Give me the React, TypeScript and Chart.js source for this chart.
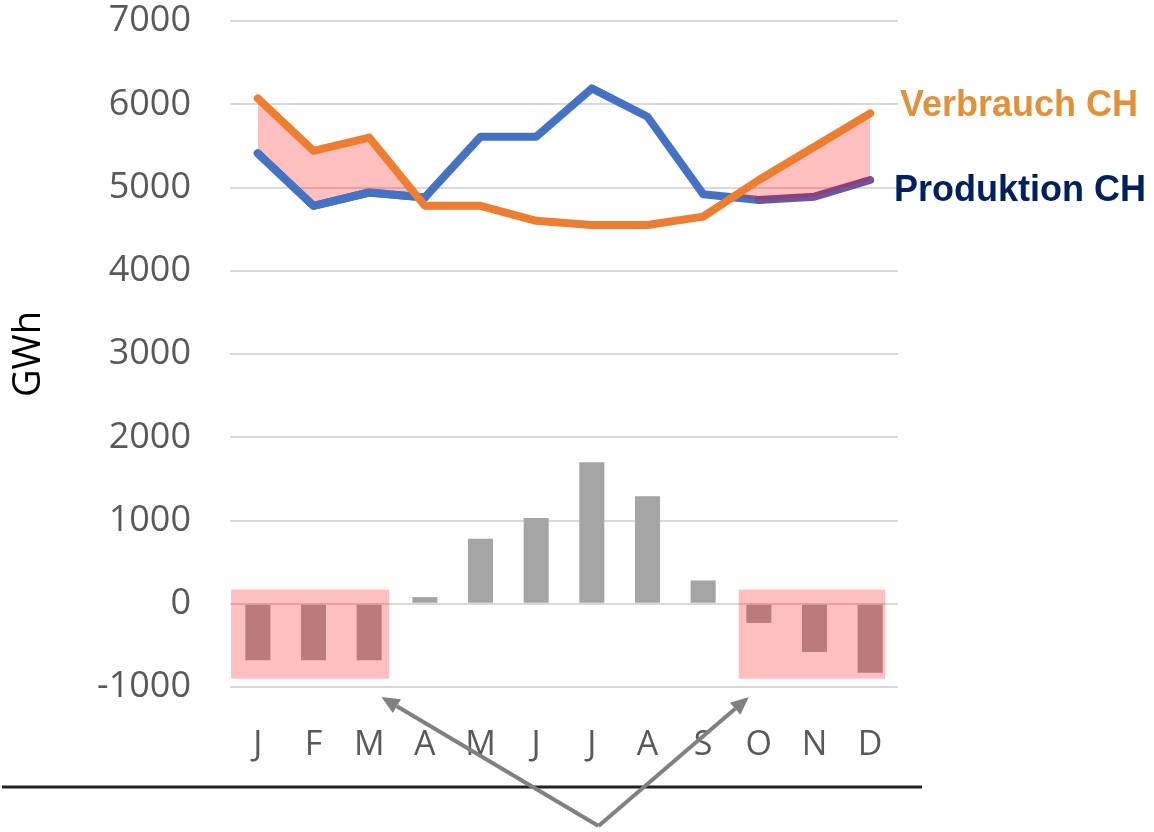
import React, { useEffect, useRef } from "react";
import { Chart, registerables } from "chart.js";

Chart.register(...registerables);

const months = ["J", "F", "M", "A", "M", "J", "J", "A", "S", "O", "N", "D"];
const verbrauch = [6070, 5440, 5600, 4780, 4780, 4600, 4550, 4550, 4650, 5090, 5490, 5890];
const produktion = [5410, 4780, 4940, 4880, 5610, 5610, 6190, 5850, 4920, 4850, 4890, 5090];
const saldo = [-680, -680, -680, 80, 780, 1030, 1700, 1290, 280, -230, -580, -830];
const yTicks = [-1000, 0, 1000, 2000, 3000, 4000, 5000, 6000, 7000];

const ORANGE = "#ed7d31";
const BLUE = "#4472c4";
const PURPLE = "#6a55a0";
const GREY = "#a5a5a5";
const PINK = "rgba(255,0,0,0.25)";

const overlayPlugin = {
  id: "overlay",
  beforeDatasetDraw(chart: any, args: any) {
    // after the pink fill of the Verbrauch line, re-draw the winter part of the
    // Produktion line (Jan–Apr) so it stays blue there
    if (args.index !== 0) return;
    const pts = chart.getDatasetMeta(1).data;
    const { ctx } = chart;
    ctx.save();
    ctx.strokeStyle = BLUE;
    ctx.lineWidth = 8;
    ctx.lineJoin = "round";
    ctx.lineCap = "round";
    ctx.beginPath();
    for (let i = 0; i <= 3; i++) {
      if (i === 0) ctx.moveTo(pts[i].x, pts[i].y);
      else ctx.lineTo(pts[i].x, pts[i].y);
    }
    ctx.stroke();
    ctx.restore();
  },
  afterDatasetsDraw(chart: any) {
    const { ctx, scales } = chart;
    const x = scales.x;
    const y = scales.y;
    ctx.save();
    ctx.fillStyle = PINK;
    const boxes = [
      [-0.48, 2.36],
      [8.64, 11.27],
    ];
    const top = y.getPixelForValue(170);
    const bot = y.getPixelForValue(-900);
    for (const [a, b] of boxes) {
      const l = x.getPixelForValue(a);
      const r = x.getPixelForValue(b);
      ctx.fillRect(l, top, r - l, bot - top);
    }
    ctx.restore();
  },
  afterDraw(chart: any) {
    const { ctx, scales, chartArea } = chart;
    const x = scales.x;
    ctx.save();
    // horizontal black rule
    const ruleY = chartArea.bottom + 100;
    ctx.strokeStyle = "#222";
    ctx.lineWidth = 3;
    ctx.beginPath();
    ctx.moveTo(2, ruleY);
    ctx.lineTo(chartArea.right + 24, ruleY);
    ctx.stroke();
    // arrows
    const apexX = x.getPixelForValue(6.12);
    const apexY = chart.height - 6;
    const tipY = chartArea.bottom + 10;
    const tips = [x.getPixelForValue(2.22), x.getPixelForValue(8.82)];
    ctx.strokeStyle = "#808080";
    ctx.fillStyle = "#808080";
    ctx.lineWidth = 4;
    for (const tx of tips) {
      const ang = Math.atan2(tipY - apexY, tx - apexX);
      const hl = 18;
      const bx = tx - Math.cos(ang) * hl;
      const by = tipY - Math.sin(ang) * hl;
      ctx.beginPath();
      ctx.moveTo(apexX, apexY);
      ctx.lineTo(bx, by);
      ctx.stroke();
      const w = 8;
      ctx.beginPath();
      ctx.moveTo(tx, tipY);
      ctx.lineTo(bx + Math.sin(ang) * w, by - Math.cos(ang) * w);
      ctx.lineTo(bx - Math.sin(ang) * w, by + Math.cos(ang) * w);
      ctx.closePath();
      ctx.fill();
    }
    // series labels
    const y = scales.y;
    ctx.font = "bold 36px 'Liberation Sans', Arial, sans-serif";
    ctx.textBaseline = "middle";
    ctx.textAlign = "left";
    ctx.fillStyle = "#e0913a";
    ctx.fillText("Verbrauch CH", chartArea.right + 2, y.getPixelForValue(5980));
    ctx.fillStyle = "#002060";
    ctx.fillText("Produktion CH", chartArea.right - 4, y.getPixelForValue(4960));
    ctx.restore();
  },
};

export default function App() {
  const ref = useRef<HTMLCanvasElement | null>(null);
  useEffect(() => {
    document.body.style.margin = "0";
    const canvas = ref.current!;
    const chart = new Chart(canvas, {
      type: "bar",
      data: {
        labels: months,
        datasets: [
          {
            type: "line",
            label: "Verbrauch CH",
            data: verbrauch,
            borderColor: ORANGE,
            borderWidth: 8,
            pointRadius: 0,
            tension: 0,
            borderCapStyle: "round",
            borderJoinStyle: "round",
            fill: { target: 1, above: PINK, below: "rgba(0,0,0,0)" },
          } as any,
          {
            type: "line",
            label: "Produktion CH",
            data: produktion,
            borderColor: BLUE,
            borderWidth: 8,
            pointRadius: 0,
            tension: 0,
            borderCapStyle: "round",
            borderJoinStyle: "round",
            segment: {
              borderColor: (c: any) => (c.p0DataIndex >= 9 ? PURPLE : undefined),
            },
            fill: false,
          } as any,
          {
            type: "bar",
            label: "Saldo",
            data: saldo,
            backgroundColor: GREY,
            barPercentage: 0.45,
            categoryPercentage: 1,
          },
        ],
      },
      options: {
        responsive: false,
        animation: false,
        devicePixelRatio: 1,
        layout: { padding: { top: 21, right: 256, left: 0, bottom: 0 } },
        plugins: {
          legend: { display: false },
          tooltip: { enabled: false },
        },
        scales: {
          x: {
            grid: { display: false, drawTicks: false },
            border: { display: false },
            ticks: {
              color: "#595959",
              font: { family: "'Open Sans', sans-serif", size: 34 },
              padding: 38,
              maxRotation: 0,
              autoSkip: false,
            },
            afterFit(scale: any) {
              scale.height = 145;
              scale.paddingLeft = 0;
              scale.paddingRight = 0;
            },
          },
          y: {
            min: -1000,
            max: 7000,
            afterBuildTicks(scale: any) {
              scale.ticks = yTicks.map((v) => ({ value: v }));
            },
            grid: { color: "#d9d9d9", lineWidth: 2, drawTicks: false },
            border: { display: false },
            ticks: {
              color: "#595959",
              font: { family: "'Open Sans', sans-serif", size: 36 },
              padding: 39,
              callback: (v: any) => String(v),
            },
            title: {
              display: true,
              text: "GWh",
              color: "#000",
              font: { family: "'Open Sans', sans-serif", size: 38 },
              padding: { top: 6, bottom: 0 },
            },
            afterFit(scale: any) {
              scale.width = 230;
              scale.paddingTop = 0;
              scale.paddingBottom = 0;
            },
          },
        },
      },
      plugins: [overlayPlugin],
    });
    return () => chart.destroy();
  }, []);
  return <canvas ref={ref} width={1154} height={832} style={{ display: "block" }} />;
}
